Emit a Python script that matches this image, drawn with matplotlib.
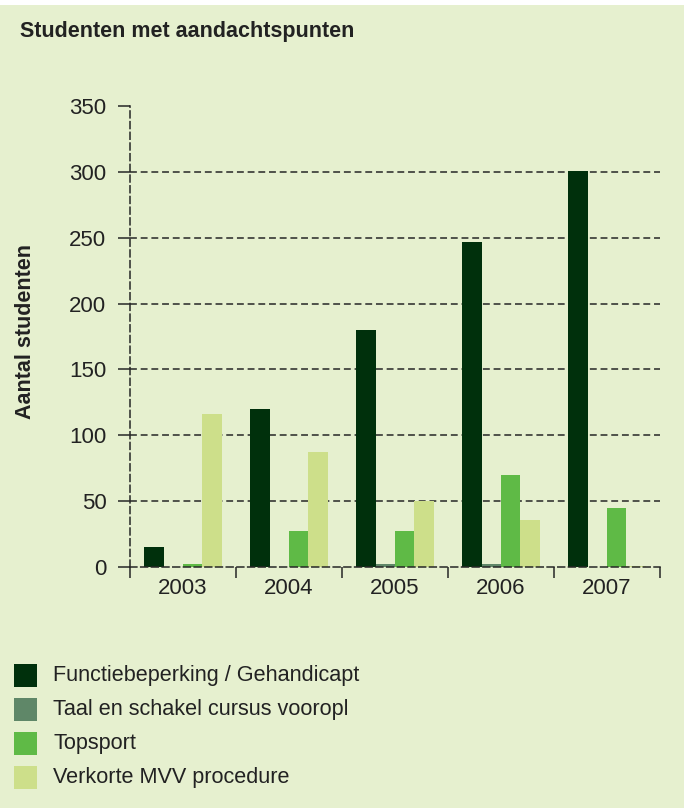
import matplotlib
matplotlib.use('Agg')
import matplotlib.pyplot as plt
from matplotlib.patches import Rectangle
import numpy as np

plt.rcParams['font.family'] = ['Liberation Sans', 'DejaVu Sans']

# Data
years = ['2003', '2004', '2005', '2006', '2007']
functiebeperking = [15, 120, 180, 247, 301]
taal_schakel = [0, 0, 2, 2, 0]
topsport = [2, 27, 27, 70, 45]
verkorte_mvv = [116, 87, 50, 36, 1]

series_names = ['Functiebeperking / Gehandicapt', 'Taal en schakel cursus vooropl',
                'Topsport', 'Verkorte MVV procedure']
series_values = [functiebeperking, taal_schakel, topsport, verkorte_mvv]
series_colors = ['#00300c', '#5f8768', '#5fba46', '#cddf8a']

bg = '#e6f0cf'
line_col = '#262626'
dash = (0, (4.5, 2.5))

fig = plt.figure(figsize=(6.84, 8.08), dpi=100)
fig.patch.set_facecolor(bg)
# thin white strip across the top
fig.add_artist(Rectangle((0, 1 - 5 / 808), 1, 5 / 808, transform=fig.transFigure,
                         facecolor='white', edgecolor='none'))

ax = fig.add_axes([130 / 684, 1 - 567 / 808, 530 / 684, 461 / 808])
ax.set_facecolor(bg)

x = np.arange(len(years))
w = 0.183
for i, (vals, col) in enumerate(zip(series_values, series_colors)):
    ax.bar(x + (i - 1.5) * w, vals, width=w, color=col, zorder=3, linewidth=0)

ax.set_xlim(-0.5, len(years) - 0.5)
ax.set_ylim(0, 350)
ax.set_yticks(np.arange(0, 351, 50))
ax.set_xticks(x)
ax.set_xticklabels(years)
ax.set_xticks(np.arange(-0.5, len(years), 1), minor=True)

ax.grid(axis='y', color=line_col, linestyle=dash, linewidth=1.1, zorder=1)
gl = ax.get_ygridlines()
gl[0].set_visible(False)
gl[-1].set_visible(False)
for s in ['top', 'right']:
    ax.spines[s].set_visible(False)
for s in ['left', 'bottom']:
    ax.spines[s].set_linestyle(dash)
    ax.spines[s].set_color(line_col)
    ax.spines[s].set_linewidth(1.1)
    ax.spines[s].set_zorder(4)

ax.tick_params(axis='y', length=9, width=1.1, color=line_col, labelsize=16,
               labelcolor='#222222', pad=8)
ax.tick_params(axis='x', which='major', length=0, labelsize=16, labelcolor='#222222', pad=8)
ax.tick_params(axis='x', which='minor', length=8, width=1.1, color=line_col)

fig.text(20 / 684, 1 - 32 / 808, 'Studenten met aandachtspunten', fontsize=15.5,
         fontweight='bold', color='#222222', va='center', ha='left')
fig.text(26 / 684, 1 - 332 / 808, 'Aantal studenten', fontsize=15.5, fontweight='bold',
         color='#222222', rotation=90, va='center', ha='center')

# legend drawn as a column of swatches
for i, (name, col) in enumerate(zip(series_names, series_colors)):
    yc = 675 + i * 34
    fig.add_artist(Rectangle((14 / 684, 1 - (yc + 11.5) / 808), 23 / 684, 23 / 808,
                             transform=fig.transFigure, facecolor=col, edgecolor='none'))
    fig.text(53 / 684, 1 - yc / 808, name, fontsize=15.6, color='#222222',
             va='center', ha='left')

fig.savefig('out.png', dpi=100, facecolor=bg)
